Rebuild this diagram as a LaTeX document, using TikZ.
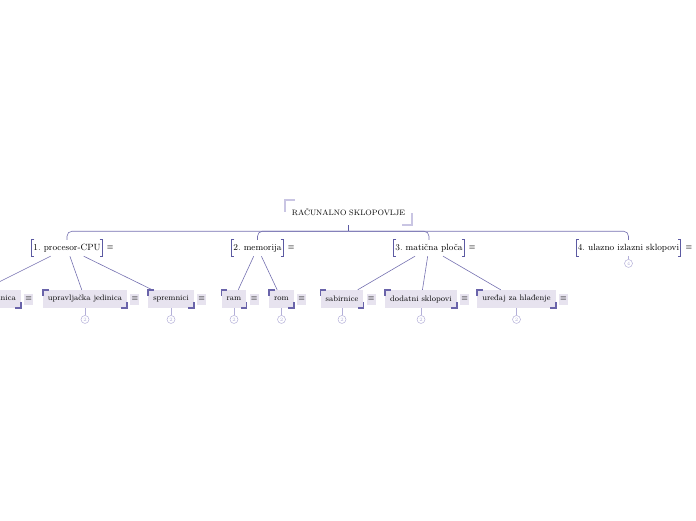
\documentclass[tikz,border=0pt]{standalone}
\usepackage{fontspec}
\usepackage{tikz}
\usetikzlibrary{positioning}
\definecolor{link}{HTML}{7470B0}
\definecolor{bracket}{HTML}{5C5AA2}
\definecolor{leaffill}{HTML}{E7E3EF}
\definecolor{corner}{HTML}{6A64AA}
\definecolor{pale}{HTML}{C9C5E3}
\definecolor{badge}{HTML}{B3AFD8}
\frenchspacing

\begin{document}
\begin{tikzpicture}[x=1pt, y=-1pt,
  root/.style={minimum width=127pt, minimum height=25pt, inner sep=0pt, font=\fontsize{7.8}{9}\selectfont},
  topic/.style={minimum height=16pt, inner xsep=1.5pt, inner ysep=0pt, font=\fontsize{9}{10}\selectfont},
  leaf/.style={fill=leaffill, minimum height=18pt, inner xsep=5pt, inner ysep=0pt, font=\fontsize{8}{9}\selectfont},
  menu/.style={inner sep=1pt, font=\fontsize{8}{9}\selectfont},
  leafmenu/.style={menu, fill=leaffill, minimum width=9pt, minimum height=11pt},
  count/.style={circle, draw=badge, line width=.5pt, minimum size=8pt, inner sep=0pt, text=badge, font=\fontsize{5}{5}\selectfont},
  line/.style={link, line width=.6pt}]
  \useasboundingbox (0,0) rectangle (696,520);
  \clip (0,0) rectangle (696,520);

  % central topic
  \node[root] (root) at (348.5,212.5) {RAČUNALNO SKLOPOVLJE};
  \draw[pale, line width=1.5pt] ([xshift=10pt]root.north west) -| ([yshift=-12pt]root.north west);
  \draw[pale, line width=1.5pt] ([yshift=12pt]root.south east) |- ([xshift=-10pt]root.south east);

  % main branches
  \node[topic] (cpu) at (67,248) {1. procesor-CPU};
  \node[topic] (mem) at (257.5,248) {2. memorija};
  \node[topic] (mb) at (429,248) {3. matična ploča};
  \node[topic] (io) at (628.5,248) {4. ulazno izlazni sklopovi};

  % sub topics
  \node[leaf, anchor=east] (alu) at (21,299) {aritmetičko-logička jedinica};
  \node[leaf] (cu) at (85,299) {upravljačka jedinica};
  \node[leaf] (reg) at (171,299) {spremnici};
  \node[leaf] (ram) at (234,299) {ram};
  \node[leaf] (rom) at (281.5,299) {rom};
  \node[leaf] (bus) at (342,299) {sabirnice};
  \node[leaf] (ext) at (421,299) {dodatni sklopovi};
  \node[leaf] (cool) at (516.5,299) {uređaj za hlađenje};

  % root links
  \coordinate (hub) at ([yshift=-6pt]root.south);
  \draw[bracket, line width=1pt] (root.south) -- (hub);
  \foreach \n in {cpu,mem,mb,io}
    \draw[line, rounded corners=5pt] (hub) -| (\n.north);

  % brackets and menus of main branches
  \foreach \n in {cpu,mem,mb,io} {
    \draw[bracket, line width=.8pt] ([xshift=2.5pt]\n.north west) -| (\n.south west) -- ++(2.5pt,0);
    \draw[bracket, line width=.8pt] ([xshift=-2.5pt]\n.north east) -| (\n.south east) -- ++(-2.5pt,0);
    \node[menu, right=3.5pt of \n] (\n-m) {$\equiv$};
  }
  \node[count, below=3pt of io] (io-c) {4};
  \draw[badge, line width=.5pt] (io) -- (io-c);

  % branch links
  \draw[line] (cpu) -- (alu);
  \draw[line] (cpu) -- (cu);
  \draw[line] (cpu) -- (reg);
  \draw[line] (mem) -- (ram);
  \draw[line] (mem) -- (rom);
  \draw[line] (mb) -- (bus);
  \draw[line] (mb) -- (ext);
  \draw[line] (mb) -- (cool);

  % corners and menus of sub topics
  \foreach \n in {alu,cu,reg,ram,rom,bus,ext,cool} {
    \draw[corner, line width=1.6pt] ([yshift=-6pt]\n.north west) |- ([xshift=6pt]\n.north west);
    \draw[corner, line width=1.6pt] ([yshift=6pt]\n.south east) |- ([xshift=-6pt]\n.south east);
    \node[leafmenu, right=3pt of \n] (\n-m) {$\equiv$};
  }
  \foreach \n in {cu,reg,ram,rom,bus,ext,cool} {
    \node[count, below=7pt of \n] (\n-c) {2};
    \draw[badge, line width=.5pt] (\n) -- (\n-c);
  }
\end{tikzpicture}
\end{document}
